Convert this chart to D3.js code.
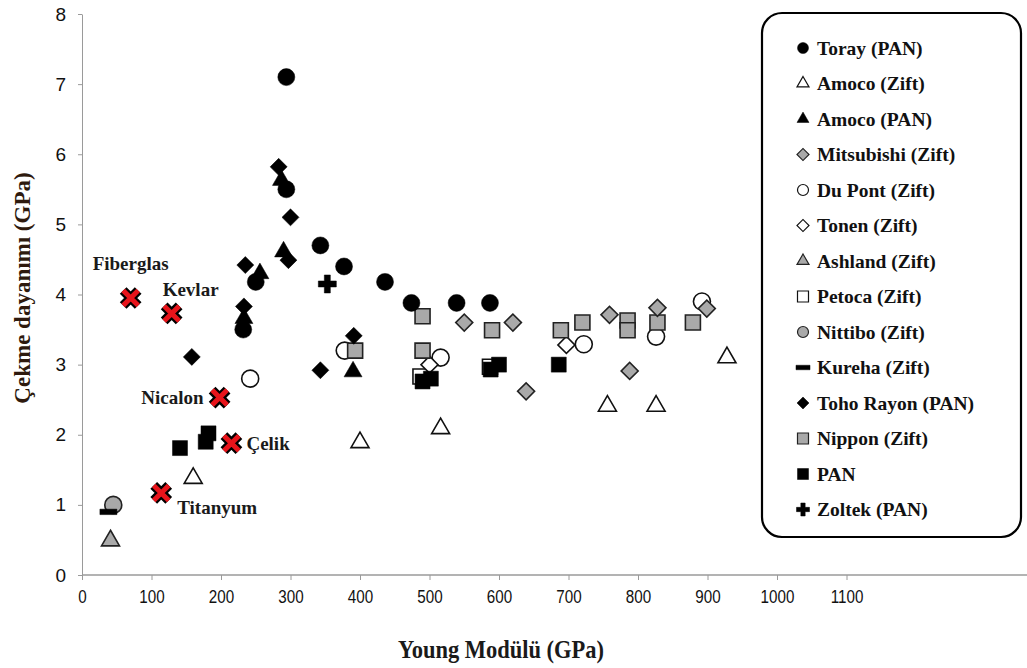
<!DOCTYPE html>
<html>
<head>
<meta charset="utf-8">
<script src="https://cdn.jsdelivr.net/npm/d3@7"></script>
<style>
  html, body { margin: 0; padding: 0; background: #fff; }
  svg { display: block; }
</style>
</head>
<body>
<svg id="chart" width="1027" height="668"></svg>
<script>
// ---------------- DATA ----------------
const xTicks = [0, 100, 200, 300, 400, 500, 600, 700, 800, 900, 1000, 1100];
const yTicks = [0, 1, 2, 3, 4, 5, 6, 7, 8];

const seriesNames = [
  "Toray (PAN)", "Amoco (Zift)", "Amoco (PAN)", "Mitsubishi (Zift)", "Du Pont (Zift)",
  "Tonen (Zift)", "Ashland (Zift)", "Petoca (Zift)", "Nittibo (Zift)", "Kureha (Zift)",
  "Toho Rayon (PAN)", "Nippon (Zift)", "PAN", "Zoltek (PAN)"
];

// [Young modulus GPa, tensile strength GPa]
const toray      = [[294, 7.1], [294, 5.5], [343, 4.7], [377, 4.4], [436, 4.18], [250, 4.18], [232, 3.5], [474, 3.88], [539, 3.88], [587, 3.88]];
const amocoZift  = [[160, 1.38], [400, 1.89], [516, 2.09], [756, 2.41], [826, 2.41], [928, 3.1]];
const amocoPAN   = [[287, 5.63], [290, 4.61], [256, 4.3], [233, 3.66], [390, 2.9]];
const mitsubishi = [[550, 3.6], [620, 3.6], [639, 2.62], [759, 3.71], [788, 2.91], [828, 3.81], [899, 3.8]];
const duPont     = [[242, 2.8], [378, 3.2], [516, 3.1], [722, 3.29], [826, 3.4], [892, 3.9]];
const tonen      = [[500, 3.0], [697, 3.28]];
const ashland    = [[41, 0.49]];
const petoca     = [[487, 2.83], [587, 2.97]];
const nittibo    = [[45, 1.0]];
const kureha     = [[38, 0.9]];
const toho       = [[283, 5.82], [300, 5.1], [297, 4.49], [235, 4.42], [233, 3.83], [158, 3.11], [391, 3.41], [343, 2.92]];
const nippon     = [[393, 3.2], [490, 3.69], [490, 3.2], [590, 3.49], [689, 3.49], [720, 3.6], [785, 3.63], [785, 3.49], [828, 3.6], [879, 3.6]];
const pan        = [[141, 1.81], [178, 1.9], [182, 2.02], [490, 2.76], [502, 2.8], [588, 2.93], [600, 3.0], [686, 3.0]];
const zoltek     = [[353, 4.15]];

const refNames  = ["Fiberglas", "Kevlar", "Nicalon", "Çelik", "Titanyum"];
const refValues = [[70, 3.95], [129, 3.73], [198, 2.53], [215, 1.88], [114, 1.17]];

// ---------------- LAYOUT ----------------
const svg = d3.select("#chart");
const x = d3.scaleLinear().domain([0, 1100]).range([82, 846.5]);
const y = d3.scaleLinear().domain([0, 8]).range([575, 14]);

const GRAY = "#a9a9a9";
const axisColor = "#9a9a9a";

const styles = {
  "Toray (PAN)":       ["circle",   "#000", "#000"],
  "Amoco (Zift)":      ["triangle", "#fff", "#111"],
  "Amoco (PAN)":       ["triangle", "#000", "#000"],
  "Mitsubishi (Zift)": ["diamond",  GRAY,   "#222"],
  "Du Pont (Zift)":    ["circle",   "#fff", "#111"],
  "Tonen (Zift)":      ["diamond",  "#fff", "#111"],
  "Ashland (Zift)":    ["triangle", GRAY,   "#222"],
  "Petoca (Zift)":     ["square",   "#fff", "#111"],
  "Nittibo (Zift)":    ["circle",   GRAY,   "#222"],
  "Kureha (Zift)":     ["bar",      "#000", "#000"],
  "Toho Rayon (PAN)":  ["diamond",  "#000", "#000"],
  "Nippon (Zift)":     ["square",   GRAY,   "#222"],
  "PAN":               ["square",   "#000", "#000"],
  "Zoltek (PAN)":      ["plus",     "#000", "#000"]
};

function symbolPath(kind, s) {
  switch (kind) {
    case "circle":   return d3.symbol(d3.symbolCircle, Math.PI * (s / 2) * (s / 2))();
    case "square":   return d3.symbol(d3.symbolSquare, s * s)();
    case "diamond":  { const a = s / Math.SQRT2; return d3.symbol(d3.symbolSquare, a * a)(); }
    case "triangle": return d3.symbol(d3.symbolTriangle, s * s * Math.sqrt(3) / 4)();
    case "plus":     { const w = s / 3; return d3.symbol(d3.symbolCross, 5 * w * w)(); }
    case "bar":      return `M${-s / 2},${-s * 0.16}H${s / 2}V${s * 0.16}H${-s / 2}Z`;
  }
}
const plotSize = { circle: 17, square: 15, diamond: 17, triangle: 18, plus: 18, bar: 17 };
const legendSize = { circle: 11, square: 11, diamond: 12, triangle: 12, plus: 13, bar: 14 };

// ---------------- AXES ----------------
const gx = svg.append("g").attr("transform", `translate(0,${y(0)})`)
  .call(d3.axisBottom(x).tickValues(xTicks).tickSize(5).tickPadding(10).tickSizeOuter(0).tickFormat(d3.format("d")));
gx.select(".domain").remove();
gx.selectAll(".tick line").attr("stroke", axisColor);
gx.selectAll(".tick text").attr("fill", "#111").style("font-family", "'Liberation Sans',Arial,sans-serif")
  .style("font-size", "19px").attr("transform", "scale(0.8,1)");
svg.append("line").attr("x1", x(0)).attr("x2", 1027).attr("y1", y(0)).attr("y2", y(0))
  .attr("stroke", axisColor).attr("stroke-width", 1.3);

const gy = svg.append("g").attr("transform", `translate(${x(0)},0)`)
  .call(d3.axisLeft(y).tickValues(yTicks).tickSize(4).tickPadding(12).tickSizeOuter(0).tickFormat(d3.format("d")));
gy.select(".domain").attr("stroke", axisColor);
gy.selectAll(".tick line").attr("stroke", axisColor);
gy.selectAll(".tick text").attr("fill", "#111").style("font-family", "'Liberation Sans',Arial,sans-serif")
  .style("font-size", "19px");

svg.append("text").attr("transform", "translate(501,658) scale(0.9,1)").attr("text-anchor", "middle")
  .style("font-family", "'Liberation Serif','Times New Roman',serif").style("font-weight", "bold")
  .style("font-size", "25px").attr("fill", "#1a1a1a").text("Young Modülü (GPa)");

svg.append("text").attr("transform", "translate(30,288) rotate(-90)").attr("text-anchor", "middle")
  .style("font-family", "'Liberation Serif','Times New Roman',serif").style("font-weight", "bold")
  .style("font-size", "23px").attr("fill", "#2e1a0e").text("Çekme dayanımı (GPa)");

// ---------------- POINTS ----------------
const dataByName = {
  "Toray (PAN)": toray, "Amoco (Zift)": amocoZift, "Amoco (PAN)": amocoPAN,
  "Mitsubishi (Zift)": mitsubishi, "Du Pont (Zift)": duPont, "Tonen (Zift)": tonen,
  "Ashland (Zift)": ashland, "Petoca (Zift)": petoca, "Nittibo (Zift)": nittibo,
  "Kureha (Zift)": kureha, "Toho Rayon (PAN)": toho, "Nippon (Zift)": nippon,
  "PAN": pan, "Zoltek (PAN)": zoltek
};
const drawOrder = ["Du Pont (Zift)", "Petoca (Zift)", "Tonen (Zift)", "Nittibo (Zift)", "Amoco (Zift)",
  "Ashland (Zift)", "Kureha (Zift)", "Nippon (Zift)", "Mitsubishi (Zift)", "Toray (PAN)",
  "Amoco (PAN)", "Toho Rayon (PAN)", "PAN", "Zoltek (PAN)"];

const pts = svg.append("g");
drawOrder.forEach(name => {
  const [kind, fill, stroke] = styles[name];
  pts.selectAll(null).data(dataByName[name]).join("path")
    .attr("d", symbolPath(kind, plotSize[kind]))
    .attr("transform", d => `translate(${x(d[0])},${y(d[1])})${kind === "diamond" ? " rotate(45)" : ""}`)
    .attr("fill", fill).attr("stroke", stroke).attr("stroke-width", fill === "#000" ? 0.5 : 1.6);
});

// ---------------- REFERENCE MATERIALS ----------------
const labelOffsets = { "Fiberglas": [-38, -35, "start"], "Kevlar": [-9, -24, "start"], "Nicalon": [-16, 0, "end"],
  "Çelik": [15, 0, "start"], "Titanyum": [16, 14, "start"] };
const refs = svg.append("g");
refValues.forEach((d, i) => {
  const cx = x(d[0]), cy = y(d[1]);
  const g = refs.append("g").attr("transform", `translate(${cx},${cy})`);
  const arm = 7.5;
  const xPath = `M${-arm},${-arm}L${arm},${arm}M${-arm},${arm}L${arm},${-arm}`;
  g.append("path").attr("d", xPath).attr("stroke", "#000").attr("stroke-width", 9.5).attr("fill", "none");
  g.append("path").attr("d", xPath).attr("stroke", "#e8141b").attr("stroke-width", 5).attr("fill", "none");
  const off = labelOffsets[refNames[i]];
  refs.append("text").attr("x", cx + off[0]).attr("y", cy + off[1]).attr("dy", "0.35em")
    .attr("text-anchor", off[2])
    .style("font-family", "'Liberation Serif','Times New Roman',serif").style("font-weight", "bold")
    .style("font-size", "19px").attr("fill", "#1a1a1a").text(refNames[i]);
});

// ---------------- LEGEND ----------------
const lg = svg.append("g");
lg.append("rect").attr("x", 762).attr("y", 13).attr("width", 259).attr("height", 524).attr("rx", 20)
  .attr("fill", "#fff").attr("stroke", "#000").attr("stroke-width", 2.2);
seriesNames.forEach((name, i) => {
  const [kind, fill, stroke] = styles[name];
  const ly = 48 + i * 35.5;
  lg.append("path").attr("d", symbolPath(kind, legendSize[kind]))
    .attr("transform", `translate(803,${ly})${kind === "diamond" ? " rotate(45)" : ""}`)
    .attr("fill", fill).attr("stroke", stroke).attr("stroke-width", fill === "#000" ? 0.5 : 1.2);
  lg.append("text").attr("x", 817).attr("y", ly).attr("dy", "0.35em")
    .style("font-family", "'Liberation Serif','Times New Roman',serif").style("font-weight", "bold")
    .style("font-size", "19.5px").attr("fill", "#111").text(name);
});
</script>
</body>
</html>
